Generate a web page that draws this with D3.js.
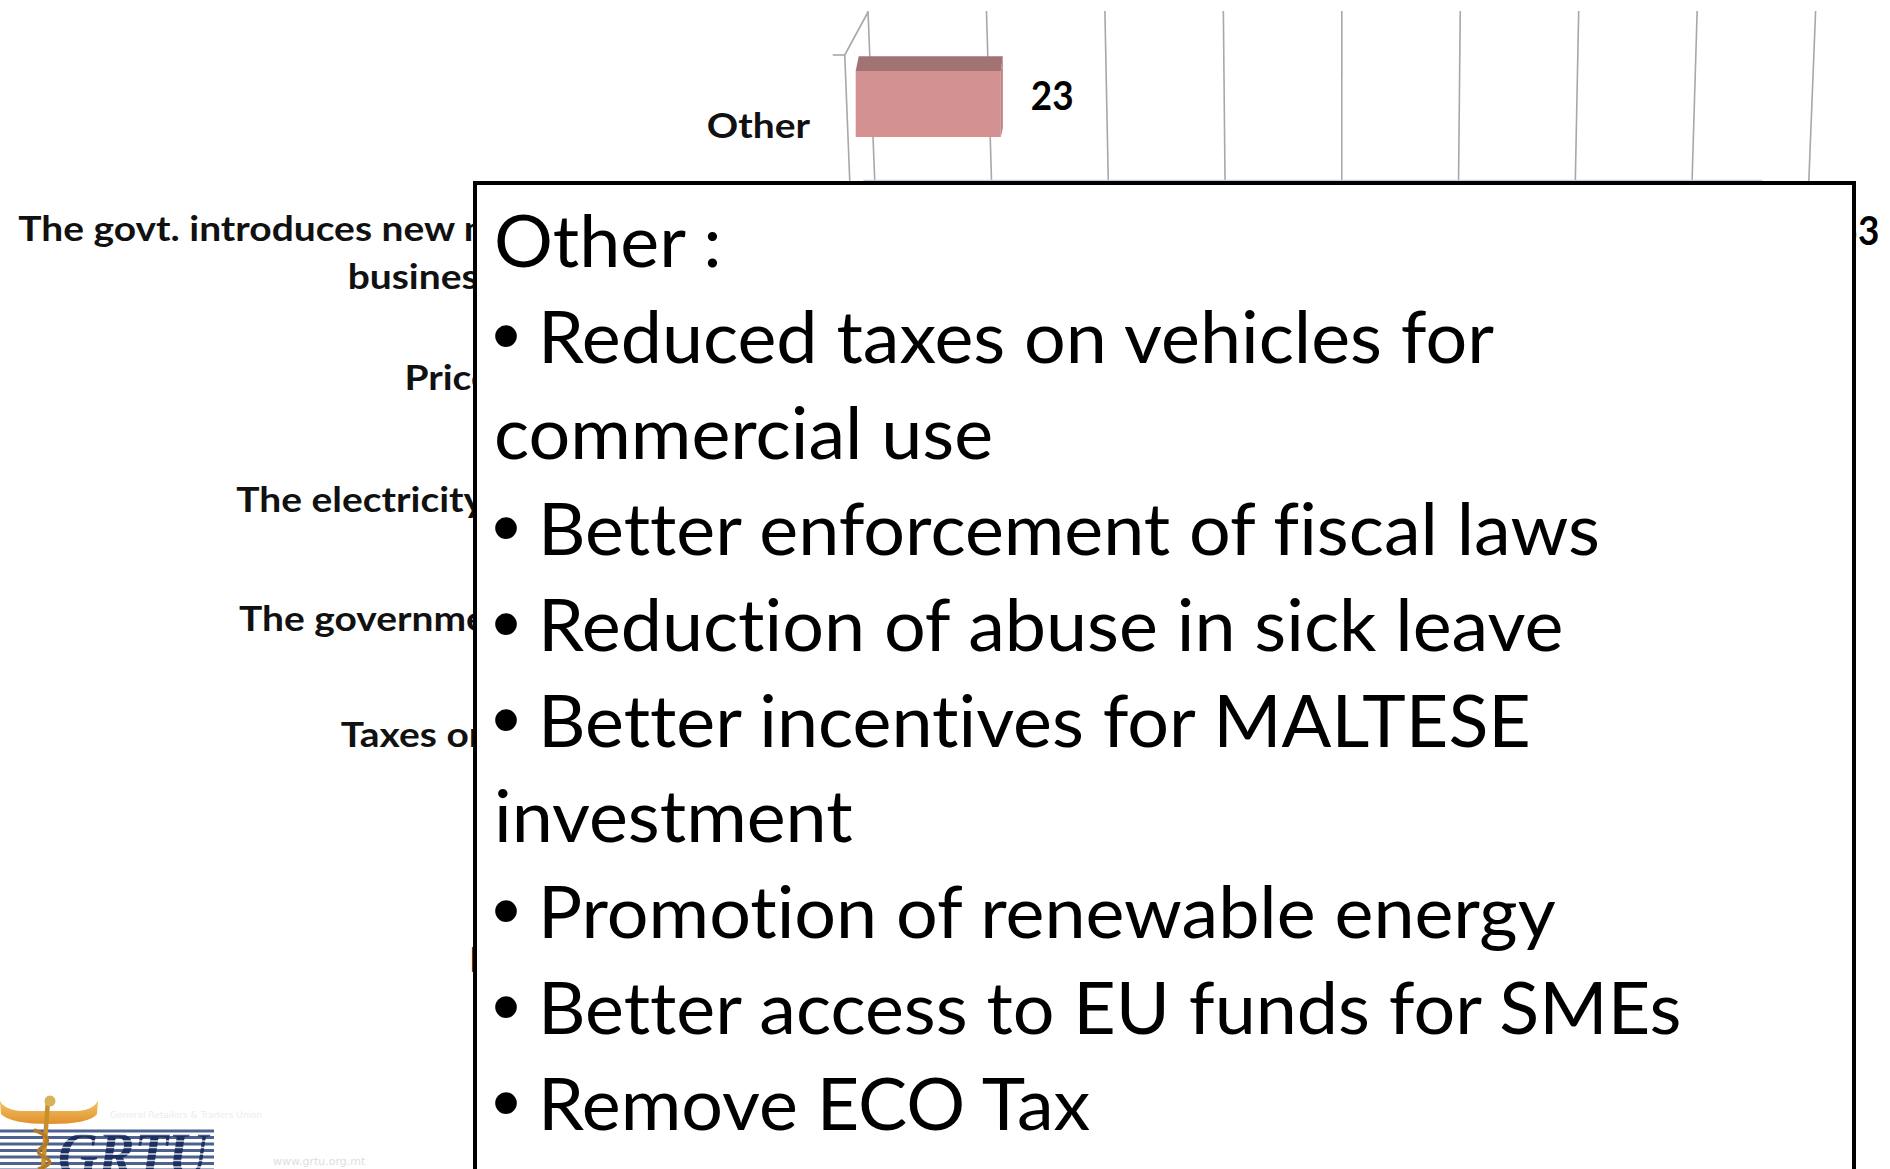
<!DOCTYPE html>
<html>
<head>
<meta charset="utf-8">
<script src="https://cdn.jsdelivr.net/npm/d3@7"></script>
<style>
  html, body { margin: 0; padding: 0; background: #fff; overflow: hidden; }
  text { font-variant-ligatures: none; }
</style>
</head>
<body>
<svg id="slide" width="1890" height="1169"></svg>
<script>
// chart data (only what the picture shows; the rest sits under the note box)
const categories = [
  "Other",
  "The govt. introduces new measures to protect\nbusinesses and enterprises",
  "Prices of fuels decrease",
  "The electricity tariffs are lowered",
  "The government lessens red tape",
  "Taxes on profit are reduced",
  "",
  "Income tax reduced"
];
const values = [23, 153, null, null, null, null, null, null];
const valueTicks = [0, 20, 40, 60, 80, 100, 120, 140, 160];
const barColors = [
  { front: "#d39291", top: "#a17473", side: "#bb8483" },
  { front: "#9fb6d6", top: "#c3cde0", side: "#8aa2c4" }
];

// note box text
const noteTitle = "Other :";
const noteItems = [
  ["Reduced taxes on vehicles for", "commercial use"],
  ["Better enforcement of fiscal laws"],
  ["Reduction of abuse in sick leave"],
  ["Better incentives for MALTESE", "investment"],
  ["Promotion of renewable energy"],
  ["Better access to EU funds for SMEs"],
  ["Remove ECO Tax"]
];

const svg = d3.select("#slide");

function measure(str, family, size, weight) {
  const t = svg.append("text")
    .attr("font-family", family)
    .attr("font-size", size)
    .attr("font-weight", weight)
    .text(str);
  const w = t.node().getComputedTextLength();
  t.remove();
  return w;
}

// ---------- 3D bar chart ----------
const x = d3.scaleLinear().domain([0, 160]).range([868, 1815.6]);
const cat = d3.scalePoint().domain(d3.range(categories.length)).range([124, 958]);

// simple perspective: things lower down pull in towards the centre
const cx = 1341, k = 8.4e-5, yTop = 11;
function px(xf, y) { return cx + (xf - cx) * (1 - k * (y - yTop)); }
function catY(i) {
  const y = cat(i);
  const t = (y - 124) / (958 - 124);
  return y + 68 * t * (1 - t);
}

const chart = svg.append("g").attr("class", "chart");

// gridlines on the back wall
chart.selectAll(".grid")
  .data(valueTicks)
  .enter()
  .append("line")
  .attr("class", "grid")
  .attr("x1", d => px(x(d), yTop))
  .attr("y1", yTop)
  .attr("x2", d => px(x(d), 300))
  .attr("y2", 300)
  .attr("stroke", "#a8a8a8")
  .attr("stroke-width", 1.6);

// left wall: front edge, depth edge and category tick
const wallDx = -25;
const firstTick = catY(0) - 69;
chart.append("line")
  .attr("x1", px(x(0), firstTick) + wallDx).attr("y1", firstTick)
  .attr("x2", px(x(0), 300) + wallDx).attr("y2", 300)
  .attr("stroke", "#a8a8a8").attr("stroke-width", 1.6);
chart.append("line")
  .attr("x1", px(x(0), firstTick) + wallDx).attr("y1", firstTick)
  .attr("x2", px(x(0), yTop + 1)).attr("y2", yTop + 1)
  .attr("stroke", "#a8a8a8").attr("stroke-width", 1.6);
chart.append("line")
  .attr("x1", px(x(0), firstTick) + wallDx - 12).attr("y1", firstTick)
  .attr("x2", px(x(0), firstTick) + wallDx).attr("y2", firstTick)
  .attr("stroke", "#a8a8a8").attr("stroke-width", 1.6);

// bars
const faceH = 66, depthDy = 14.7, depthDx = 3;
values.forEach((v, i) => {
  if (v == null) return;
  const col = barColors[i % barColors.length];
  const yc = catY(i) - 20 - 4 * i;            // front face centre
  const yf = yc - faceH / 2, yb = yc + faceH / 2;
  const xl = px(x(0), yc) - 16;
  const xrBack = px(x(v), yc) - 4;
  const xr = xrBack - 2;
  const g = chart.append("g").attr("class", "bar");
  // top face
  g.append("polygon")
    .attr("points", [[xl + depthDx, yf - depthDy], [xrBack, yf - depthDy], [xr, yf], [xl, yf]].join(" "))
    .attr("fill", col.top);
  // right side
  g.append("polygon")
    .attr("points", [[xr, yf], [xrBack, yf - depthDy], [xrBack, yb - 9], [xr, yb]].join(" "))
    .attr("fill", col.side);
  // front face
  g.append("rect")
    .attr("x", xl).attr("y", yf)
    .attr("width", xr - xl).attr("height", faceH)
    .attr("fill", col.front);
  // value label
  const vx = xr + 30 + 25 * i;
  g.append("text")
    .attr("transform", `translate(${vx},${yc - 10 + 12 * i}) scale(0.9,1)`)
    .attr("dominant-baseline", "central")
    .attr("font-family", "Lato")
    .attr("font-weight", "bold")
    .attr("font-size", 41)
    .attr("fill", "#000")
    .text(v);
});

// category labels, right aligned against the wall
const labFont = "Lato", labSize = 35;
const labSx = 437 / measure("The govt. introduces new", labFont, labSize, "bold");
const labRight = 810;
categories.forEach((c, i) => {
  if (!c) return;
  const lines = c.split("\n");
  const yc = catY(i);
  lines.forEach((ln, j) => {
    const yl = yc + (j - (lines.length - 1) / 2) * 48;
    chart.append("text")
      .attr("transform", `translate(${labRight},${yl}) scale(${labSx},1)`)
      .attr("text-anchor", "end")
      .attr("dominant-baseline", "central")
      .attr("font-family", labFont)
      .attr("font-weight", "bold")
      .attr("font-size", labSize)
      .attr("fill", "#111")
      .text(ln);
  });
});

// ---------- note box on top ----------
const note = svg.append("g").attr("class", "note");
note.append("rect")
  .attr("x", 475).attr("y", 183)
  .attr("width", 1379).attr("height", 1100)
  .attr("fill", "#fff")
  .attr("stroke", "#000")
  .attr("stroke-width", 4);

const noteFont = "Lato", noteSize = 72;
const noteSx = 1062 / measure("Better enforcement of fiscal laws", noteFont, noteSize, "normal");
const rowH = 95.9, row0 = 267;
const rows = [{ text: noteTitle, bullet: false, x: 494 }];
noteItems.forEach(item => {
  item.forEach((ln, j) => rows.push({ text: ln, bullet: j === 0, x: j === 0 ? 538 : 494 }));
});
rows.forEach((r, n) => {
  const yb = row0 + n * rowH;
  if (r.bullet) {
    note.append("text")
      .attr("x", 492).attr("y", yb)
      .attr("font-family", "Liberation Sans")
      .attr("font-size", 80)
      .attr("fill", "#000")
      .text("\u2022");
  }
  note.append("text")
    .attr("transform", `translate(${r.x},${yb}) scale(${noteSx},1)`)
    .attr("font-family", noteFont)
    .attr("font-size", noteSize)
    .attr("fill", "#000")
    .text(r.text);
});

// ---------- GRTU logo, bottom left ----------
const logo = svg.append("g").attr("class", "logo");
for (let y = 1131; y < 1172; y += 6.5) {
  logo.append("line")
    .attr("x1", 0).attr("y1", y).attr("x2", 214).attr("y2", y)
    .attr("stroke", "#4d6290").attr("stroke-width", 3.2);
}
logo.append("text")
  .attr("x", 58).attr("y", 1176)
  .attr("font-family", "Liberation Serif")
  .attr("font-style", "italic")
  .attr("font-weight", "bold")
  .attr("font-size", 64)
  .attr("textLength", 150)
  .attr("lengthAdjust", "spacingAndGlyphs")
  .attr("fill", "#1b2f60")
  .text("GRTU");
for (let y = 1134.5; y < 1172; y += 6.5) {
  logo.append("line")
    .attr("x1", 0).attr("y1", y).attr("x2", 214).attr("y2", y)
    .attr("stroke", "#fff").attr("stroke-width", 1.3).attr("opacity", 0.8);
}
// gold emblem
const gold = svg.append("defs").append("linearGradient")
  .attr("id", "gold").attr("x1", 0).attr("y1", 0).attr("x2", 0).attr("y2", 1);
gold.append("stop").attr("offset", 0).attr("stop-color", "#f3c267");
gold.append("stop").attr("offset", 1).attr("stop-color", "#e0922c");
logo.append("path")
  .attr("d", "M0,1101 Q5,1110 22,1111 L78,1111 Q93,1110 98,1101 L97,1114 Q90,1124 50,1124 Q10,1124 1,1114 Z")
  .attr("fill", "url(#gold)");
logo.append("line")
  .attr("x1", 48).attr("y1", 1100).attr("x2", 43).attr("y2", 1169)
  .attr("stroke", "#c88f2d").attr("stroke-width", 4.5);
logo.append("path")
  .attr("d", "M34,1130 Q54,1137 44,1146 Q32,1152 46,1158 Q56,1164 38,1169")
  .attr("fill", "none").attr("stroke", "#b57b22").attr("stroke-width", 3.5);
logo.append("circle")
  .attr("cx", 50).attr("cy", 1101).attr("r", 5.5)
  .attr("fill", "#d8b25a");
logo.append("text")
  .attr("x", 110).attr("y", 1118)
  .attr("font-family", "DejaVu Sans").attr("font-size", 9)
  .attr("fill", "#ececec")
  .text("General Retailers & Traders Union");
logo.append("text")
  .attr("x", 273).attr("y", 1165)
  .attr("font-family", "DejaVu Sans").attr("font-size", 11)
  .attr("fill", "#dedede")
  .text("www.grtu.org.mt");
</script>
</body>
</html>
